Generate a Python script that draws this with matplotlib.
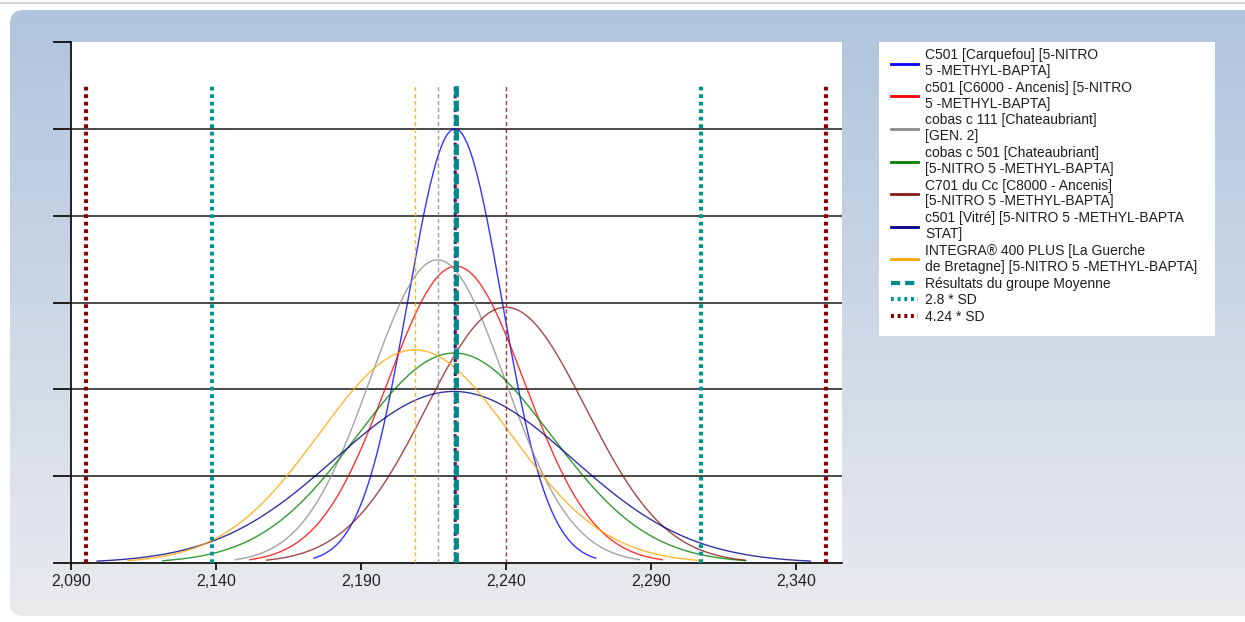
import numpy as np
import matplotlib
matplotlib.use("Agg")
import matplotlib.pyplot as plt
from matplotlib.patches import FancyBboxPatch, Rectangle
from matplotlib.ticker import FuncFormatter
from matplotlib.lines import Line2D

plt.rcParams['font.family'] = ['Liberation Sans', 'DejaVu Sans']

# ---- data ----
labels = [
    "C501 [Carquefou] [5-NITRO\n5 -METHYL-BAPTA]",
    "c501 [C6000 - Ancenis] [5-NITRO\n5 -METHYL-BAPTA]",
    "cobas c 111 [Chateaubriant]\n[GEN. 2]",
    "cobas c 501 [Chateaubriant]\n[5-NITRO 5 -METHYL-BAPTA]",
    "C701 du Cc [C8000 - Ancenis]\n[5-NITRO 5 -METHYL-BAPTA]",
    "c501 [Vitré] [5-NITRO 5 -METHYL-BAPTA\nSTAT]",
    "INTEGRA® 400 PLUS [La Guerche\nde Bretagne] [5-NITRO 5 -METHYL-BAPTA]",
]
lab_means = [2.2224, 2.2228, 2.2164, 2.2222, 2.2400, 2.2220, 2.2086]
lab_sds = [0.0162, 0.0237, 0.0232, 0.0335, 0.0275, 0.0410, 0.0330]
colors = ["#0000FF", "#FF0000", "#8C8C8C", "#008000", "#8B1A1A", "#00008B", "#FFA500"]

group_mean = 2.2229
group_sd = 0.0301
sd_factors = [2.8, 4.24]
sd_colors = ["#009494", "#8B0000"]
mean_color = "#008B8B"

xticks = [2.090, 2.140, 2.190, 2.240, 2.290, 2.340]
xlim = (2.090, 2.3559)

W, H = 1245, 622
fig = plt.figure(figsize=(W / 100, H / 100), dpi=100)
fig.patch.set_facecolor("white")

# ---- background panel with gradient ----
bg = fig.add_axes([0, 0, 1, 1])
bg.set_xlim(0, W)
bg.set_ylim(H, 0)
bg.axis("off")
grad = np.linspace(0, 1, 256)[:, None]
top = np.array([0xB0, 0xC4, 0xDE]) / 255
bot = np.array([0xEA, 0xEB, 0xED]) / 255
img = top[None, None, :] * (1 - grad[..., None]) + bot[None, None, :] * grad[..., None]
img = np.repeat(img, 2, axis=1)
panel = FancyBboxPatch((10, 10), W + 40, 606, boxstyle="round,pad=0,rounding_size=14",
                       transform=bg.transData, facecolor="none", edgecolor="none")
bg.add_patch(panel)
im = bg.imshow(img, extent=(10, W + 50, 616, 10), aspect="auto", zorder=0)
im.set_clip_path(panel)
bg.plot([0, W], [3, 3], color="#d4d4d4", lw=1.5)
# legend box
bg.add_patch(Rectangle((879, 42), 336, 294, facecolor="white", edgecolor="none", zorder=2))

# ---- main axes ----
ax = fig.add_axes([71 / W, (H - 563) / H, 771 / W, 521 / H])
ax.set_facecolor("white")

peaks = []
for m, s, c in zip(lab_means, lab_sds, colors):
    x = np.linspace(m - 3 * s, m + 3 * s, 300)
    y = np.exp(-0.5 * ((x - m) / s) ** 2) / (s * np.sqrt(2 * np.pi))
    peaks.append(y.max())
    ax.plot(x, y, color=c, lw=1.0, alpha=0.8, zorder=3)

pmax = max(peaks)
ytop = 1.2 * pmax
vtop = 1.1 * pmax

for m, c in zip(lab_means, colors):
    ax.plot([m, m], [0, vtop], color=c, lw=1.0, ls=(0, (3, 2)), alpha=0.85, zorder=3)

ax.plot([group_mean, group_mean], [0, vtop], color=mean_color, lw=3.5,
        ls=(0, (2.2, 0.8)), zorder=4)
for f, c in zip(sd_factors, sd_colors):
    for sgn in (-1, 1):
        v = group_mean + sgn * f * group_sd
        ax.plot([v, v], [0, vtop], color=c, lw=3.0, ls=(0, (0.9, 0.9)), zorder=4)

ax.set_xlim(*xlim)
ax.set_ylim(0, ytop)
ax.set_xticks(xticks)
ax.xaxis.set_major_formatter(FuncFormatter(lambda v, p: f"{v:.3f}".replace(".", ",")))
yt = [pmax / 5 * i for i in range(7)]
ax.set_yticks(yt)
ax.set_yticklabels([])
for yv in yt[1:-1]:
    ax.axhline(yv, color="#3a3a3a", lw=1.3, zorder=1)
for sp in ("top", "right"):
    ax.spines[sp].set_visible(False)
for sp in ("left", "bottom"):
    ax.spines[sp].set_color("black")
    ax.spines[sp].set_linewidth(1.2)
ax.tick_params(axis="y", direction="out", length=13, width=1.2, color="black")
ax.tick_params(axis="x", direction="out", length=5, width=1.2, color="black",
               labelsize=11.5, labelcolor="#222222", pad=3)

# ---- legend ----
handles = [Line2D([], [], color=c, lw=2) for c in colors]
handles.append(Line2D([], [], color=mean_color, lw=3, ls=(0, (2.2, 1.2))))
for c in sd_colors:
    handles.append(Line2D([], [], color=c, lw=3, ls=(0, (0.7, 0.9))))
leg_labels = labels + ["Résultats du groupe Moyenne", "2.8 * SD", "4.24 * SD"]
leg = fig.legend(handles, leg_labels, loc="upper left",
                 bbox_to_anchor=(891 / W, 1 - 48 / H), bbox_transform=fig.transFigure,
                 fontsize=10, frameon=False, handlelength=1.95,
                 handletextpad=0.5, labelspacing=0.2, borderpad=0,
                 borderaxespad=0)
for t in leg.get_texts():
    t.set_color("#1e1e1e")
    t.set_linespacing(1.17)

fig.savefig("out.png", dpi=100)
